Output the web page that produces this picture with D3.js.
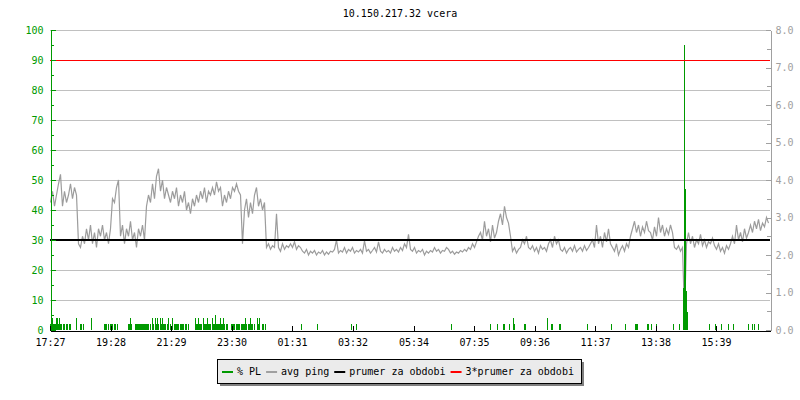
<!DOCTYPE html>
<html>
<head>
<meta charset="utf-8">
<script src="https://cdn.jsdelivr.net/npm/d3@7"></script>
<style>
  body { margin: 0; background: #fff; }
  svg text { font-family: "DejaVu Sans Mono", monospace; font-size: 10px; }
</style>
</head>
<body>
<script>
// title + time axis
var title = "10.150.217.32 vcera";
var tickMinutes = [0, 121, 242, 363, 484, 605, 727, 848, 969, 1090, 1211, 1332];
var tickLabels = ["17:27", "19:28", "21:29", "23:30", "01:31", "03:32", "05:34", "07:35", "09:36", "11:37", "13:38", "15:39"];

// avg ping (ms), one sample every 4 minutes starting 17:27
var pingMs = [
  3.4,3.7,3.3,3.6,3.9,4.15,3.3,3.7,3.4,3.6,3.9,3.5,3.8,3.6,
  2.3,2.2,
  2.5,2.3,2.7,2.4,2.8,2.3,2.6,2.2,2.7,2.5,2.8,2.4,2.6,2.3,2.7,
  3.5,3.4,3.8,4.0,
  2.5,2.8,2.3,2.7,2.5,2.9,2.4,2.6,2.2,2.7,2.5,2.8,2.4,
  3.3,3.6,3.4,3.9,3.5,4.1,4.3,3.7,4.0,3.5,3.8,3.6,
  3.4,3.7,3.5,3.8,3.3,3.6,3.4,3.7,
  3.2,3.4,3.1,3.5,3.3,
  3.6,3.4,3.7,3.5,3.8,3.4,3.7,3.6,
  3.8,3.6,3.95,3.7,3.8,
  3.3,3.6,3.4,3.7,3.5,
  3.8,3.7,3.9,3.7,3.6,
  2.3,
  3.2,3.5,3.0,3.4,3.1,3.6,3.8,
  3.3,3.5,3.2,3.4,
  2.2,2.3,2.15,2.25,2.2,
  3.1,
  2.2,2.1,2.3,2.15,2.25,2.2,2.3,
  2.2,2.35,2.15,2.25,2.2,
  2.1,2.05,2.15,2.0,2.1,2.05,2.12,2.0,2.08,2.04,2.12,2.0,2.08,2.02,2.1,
  2.08,2.15,2.4,2.05,2.12,2.08,2.2,2.05,2.15,2.1,2.2,2.05,2.12,2.08,2.15,2.05,2.38,2.1,2.15,
  2.05,2.12,2.2,2.08,2.35,2.1,2.05,2.15,2.08,2.12,2.05,2.2,2.1,2.15,2.08,2.2,2.12,2.3,2.2,
  2.55,
  2.15,2.1,2.2,2.05,2.12,2.08,2.15,2.0,2.1,2.05,2.12,2.08,2.2,2.1,2.15,
  2.05,2.12,2.1,2.2,2.15,2.05,2.1,2.02,2.08,2.05,2.12,2.08,2.15,2.1,
  2.2,2.15,2.3,2.2,2.35,2.5,
  2.6,2.4,2.9,2.5,2.7,2.35,2.8,2.45,2.6,
  2.9,3.1,2.8,3.3,3.0,2.85,
  2.5,2.1,2.2,2.05,2.15,2.2,
  2.4,2.3,2.5,2.2,
  2.15,2.25,2.1,2.2,2.05,2.25,2.15,2.2,2.1,2.3,
  2.4,2.2,2.5,2.3,2.4,
  2.15,2.1,2.2,2.05,2.15,2.2,2.1,2.25,2.08,2.15,2.2,2.1,2.25,2.12,2.2,2.3,
  2.4,2.2,2.8,2.3,2.5,2.2,2.6,2.35,2.7,2.3,
  2.2,2.1,2.3,2.0,2.15,2.25,2.1,2.3,2.2,
  2.5,2.7,2.9,2.6,2.8,2.5,2.75,2.6,2.9,2.65,
  2.6,2.4,2.75,2.5,3.0,2.6,2.8,2.5,2.7,2.55,2.8,2.6,
  2.2,2.15,2.25,2.1,2.2,
  0.45,
  2.3,
  2.6,2.3,2.5,2.2,2.4,2.3,2.55,2.25,2.4,2.2,2.35,2.3,2.45,2.25,
  2.15,2.3,2.1,2.2,2.05,2.25,2.15,2.3,
  2.5,2.3,2.8,2.4,2.6,2.35,2.7,2.45,2.6,
  2.8,2.6,2.9,2.7,2.95,2.65,2.85,2.75,3.0,2.85
];

// packet loss (%), [sample number (2 min step), value], zero samples left out
var packetLoss = [
  [0,2],[1,2],[2,4],[3,2],[4,2],[5,2],[6,4],[7,4],[8,2],[9,4],[10,2],[11,2],[13,2],[14,2],[16,2],[17,2],
  [19,2],[20,2],[26,4],[30,2],[31,2],[33,2],[41,4],[54,2],[55,2],[56,2],[58,2],[60,2],[61,2],[62,2],
  [64,2],[65,2],[67,2],[78,2],[79,2],[80,4],[81,2],[85,2],[86,2],[87,2],[88,2],[89,2],[90,2],[91,2],
  [92,2],[93,2],[94,2],[95,2],[96,2],[97,2],[98,2],[100,2],[102,4],[103,2],[105,4],[106,2],[107,4],
  [108,2],[110,4],[111,2],[112,4],[113,2],[114,2],[115,2],[117,2],[118,4],[120,2],[122,4],[124,2],
  [125,2],[126,2],[127,2],[128,2],[130,2],[131,2],[132,2],[133,2],[135,2],[136,2],[138,2],[145,4],
  [146,2],[147,2],[148,4],[149,2],[150,2],[151,2],[153,4],[154,2],[155,2],[156,2],[157,4],[158,2],
  [159,2],[160,2],[162,4],[163,2],[164,2],[165,5],[166,2],[167,2],[168,2],[169,2],[170,4],[171,2],
  [172,2],[173,4],[174,2],[176,2],[177,2],[181,2],[182,2],[183,2],[184,2],[186,2],[187,2],[188,2],
  [189,2],[191,2],[192,2],[193,2],[194,2],[195,4],[196,2],[198,2],[199,2],[200,4],[201,2],[202,2],
  [204,2],[207,4],[208,2],[209,4],[212,2],[213,2],[215,2],
  [251,2],[267,2],[301,2],[306,2],[401,2],[440,2],[447,2],[453,2],[454,2],[459,2],[463,4],[464,2],
  [474,2],[475,2],[497,4],[501,2],[502,2],[509,2],[510,2],[537,2],[561,2],[575,2],[585,2],[586,2],
  [587,2],[597,2],[598,2],[601,2],[606,2],[623,2],[629,2],[633,14],[634,95],[635,47],[636,13],[637,6],
  [659,2],[665,2],[671,2],[678,2],[683,2],[698,2],[702,2],[704,2],[708,2]
];

var average = 30;          // % scale, = 2.4 ms
var average3 = 90;
var legendItems = [
  {label: "% PL", color: "#009900"},
  {label: "avg ping", color: "#a0a0a0"},
  {label: "prumer za obdobi", color: "#000000"},
  {label: "3*prumer za obdobi", color: "#ff0000"}
];

var width = 800, height = 400;
var plotLeft = 50, plotRight = 770, plotTop = 30, plotBottom = 330;
var green = "#009900", grey = "#a0a0a0";

var svg = d3.select("body").append("svg")
  .attr("width", width)
  .attr("height", height);

var x = d3.scaleLinear().domain([0, 1440]).range([plotLeft, plotRight]);
var yL = d3.scaleLinear().domain([0, 100]).range([plotBottom, plotTop]);
var yR = d3.scaleLinear().domain([0, 8]).range([plotBottom, plotTop]);

svg.append("text")
  .attr("x", 400)
  .attr("y", 17)
  .attr("text-anchor", "middle")
  .text(title);

// grid
svg.append("g").selectAll("line")
  .data(d3.range(10, 101, 10))
  .enter().append("line")
  .attr("x1", plotLeft).attr("x2", plotRight)
  .attr("y1", function(d) { return yL(d) + 0.5; })
  .attr("y2", function(d) { return yL(d) + 0.5; })
  .attr("stroke", "#c0c0c0")
  .attr("shape-rendering", "crispEdges");

// ping line
var line = d3.line()
  .x(function(d, i) { return x(i * 4) + 0.5; })
  .y(function(d) { return yR(d); });

svg.append("path")
  .datum(pingMs)
  .attr("d", line)
  .attr("fill", "none")
  .attr("stroke", "#9c9c9c")
  .attr("stroke-width", 1.2);

// packet loss bars
svg.append("g").selectAll("rect")
  .data(packetLoss)
  .enter().append("rect")
  .attr("x", function(d) { return x(d[0] * 2); })
  .attr("width", 1)
  .attr("y", function(d) { return yL(d[1]); })
  .attr("height", function(d) { return plotBottom - yL(d[1]); })
  .attr("fill", green)
  .attr("shape-rendering", "crispEdges");

// average lines
svg.append("line")
  .attr("x1", plotLeft).attr("x2", plotRight)
  .attr("y1", yL(average)).attr("y2", yL(average))
  .attr("stroke", "#000").attr("stroke-width", 2)
  .attr("shape-rendering", "crispEdges");

svg.append("line")
  .attr("x1", plotLeft).attr("x2", plotRight)
  .attr("y1", yL(average3) + 0.5).attr("y2", yL(average3) + 0.5)
  .attr("stroke", "#ff0000")
  .attr("shape-rendering", "crispEdges");

// left axis
var gL = svg.append("g")
  .attr("transform", "translate(" + (plotLeft + 0.5) + ",0)")
  .call(d3.axisLeft(yL).tickValues(d3.range(0, 101, 10)).tickSize(-5).tickSizeOuter(0).tickPadding(7));
var gL2 = svg.append("g")
  .attr("transform", "translate(" + (plotLeft + 0.5) + ",0)")
  .call(d3.axisLeft(yL).tickValues(d3.range(5, 100, 10)).tickSize(-3).tickFormat("").tickSizeOuter(0));
gL2.select(".domain").remove();

// right axis
var gR = svg.append("g")
  .attr("transform", "translate(" + (plotRight + 0.5) + ",0)")
  .call(d3.axisRight(yR).tickValues(d3.range(0, 8.01, 1)).tickSize(-5).tickSizeOuter(0).tickPadding(5).tickFormat(d3.format(".1f")));
var gR2 = svg.append("g")
  .attr("transform", "translate(" + (plotRight + 0.5) + ",0)")
  .call(d3.axisRight(yR).tickValues(d3.range(0.5, 8, 1)).tickSize(-4).tickFormat("").tickSizeOuter(0));
gR2.select(".domain").remove();

// x axis
var gX = svg.append("g")
  .attr("transform", "translate(0," + (plotBottom + 0.5) + ")")
  .call(d3.axisBottom(x).tickValues(tickMinutes).tickSize(-5).tickSizeOuter(0).tickPadding(8)
    .tickFormat(function(d, i) { return tickLabels[i]; }));

[gL, gL2, gR, gR2, gX].forEach(function(g) {
  g.attr("font-family", null).attr("font-size", null)
    .selectAll("line, path").attr("shape-rendering", "crispEdges");
});
[gL, gL2].forEach(function(g) {
  g.selectAll("line, path").attr("stroke", green);
  g.selectAll("text").attr("fill", green);
});
[gR, gR2].forEach(function(g) {
  g.selectAll("line, path").attr("stroke", grey);
  g.selectAll("text").attr("fill", grey);
});

// legend
var lg = svg.append("g").attr("transform", "translate(217,359)");
lg.append("rect").attr("x", 3).attr("y", 3).attr("width", 364).attr("height", 24).attr("fill", "#808080");
lg.append("rect").attr("x", 0.5).attr("y", 0.5).attr("width", 364).attr("height", 24)
  .attr("fill", "#ebebeb").attr("stroke", "#000");

var lx = 5;
legendItems.forEach(function(item) {
  lg.append("line")
    .attr("x1", lx).attr("x2", lx + 11)
    .attr("y1", 13).attr("y2", 13)
    .attr("stroke", item.color).attr("stroke-width", 2);
  lg.append("text")
    .attr("x", lx + 15)
    .attr("y", 16)
    .text(item.label);
  lx += 15 + item.label.length * 6.02 + 5;
});
</script>
</body>
</html>
